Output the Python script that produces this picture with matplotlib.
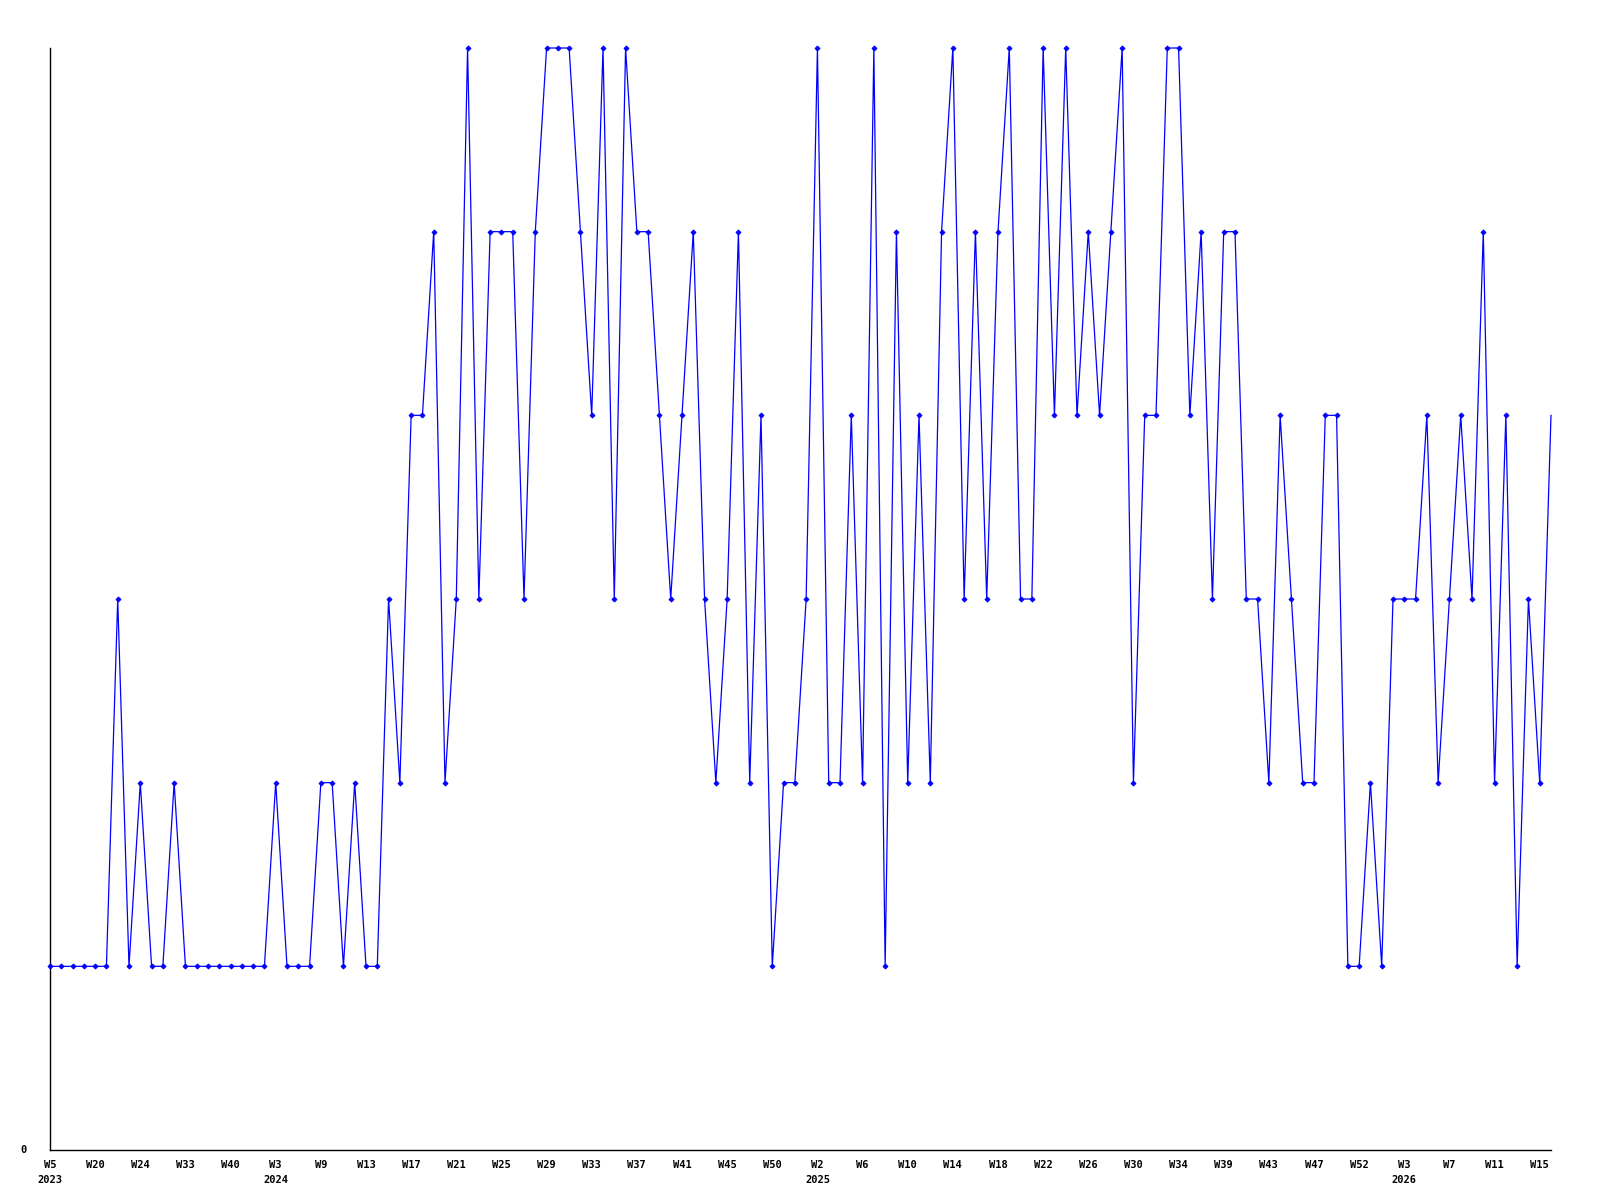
import matplotlib
matplotlib.use("Agg")
import matplotlib.pyplot as plt

# weekly values (one point per observation)
values = [
    1, 1, 1, 1, 1, 1, 3, 1, 2, 1, 1, 2, 1, 1, 1, 1, 1, 1, 1, 1,
    2, 1, 1, 1, 2, 2, 1, 2, 1, 1, 3, 2, 4, 4, 5, 2, 3, 6, 3, 5,
    5, 5, 3, 5, 6, 6, 6, 5, 4, 6, 3, 6, 5, 5, 4, 3, 4, 5, 3, 2,
    3, 5, 2, 4, 1, 2, 2, 3, 6, 2, 2, 4, 2, 6, 1, 5, 2, 4, 2, 5,
    6, 3, 5, 3, 5, 6, 3, 3, 6, 4, 6, 4, 5, 4, 5, 6, 2, 4, 4, 6,
    6, 4, 5, 3, 5, 5, 3, 3, 2, 4, 3, 2, 2, 4, 4, 1, 1, 2, 1, 3,
    3, 3, 4, 2, 3, 4, 3, 5, 2, 4, 1, 3, 2, 4,
]

# x tick labels, one every 4 observations
week_labels = [
    "W5", "W20", "W24", "W33", "W40", "W3", "W9", "W13", "W17", "W21",
    "W25", "W29", "W33", "W37", "W41", "W45", "W50", "W2", "W6", "W10",
    "W14", "W18", "W22", "W26", "W30", "W34", "W39", "W43", "W47", "W52",
    "W3", "W7", "W11", "W15",
]
label_step = 4
# year shown under the tick label with this index in week_labels
year_labels = {0: "2023", 5: "2024", 17: "2025", 30: "2026"}

fig = plt.figure(figsize=(16, 12), dpi=100)
ax = fig.add_axes([50 / 1600, 1 - 1150 / 1200, 1501 / 1600, 1102 / 1200])

x = list(range(len(values)))
ax.plot(x[:-1], values[:-1], color="#0000ff", linewidth=0.9, marker="D",
        markersize=2.6, markeredgewidth=0.6, clip_on=False, zorder=3)
ax.plot(x[-2:], values[-2:], color="#0000ff", linewidth=0.9, clip_on=False,
        zorder=3)

ax.set_xlim(0, len(values) - 1)
ax.set_ylim(0, 6)

for s in ("top", "right"):
    ax.spines[s].set_visible(False)
for s in ("left", "bottom"):
    ax.spines[s].set_linewidth(1.0)
    ax.spines[s].set_color("black")

font = dict(family="DejaVu Sans Mono", weight="bold", size=7.5)

ticks = [i * label_step for i in range(len(week_labels))]
labels = []
for i, w in enumerate(week_labels):
    if i in year_labels:
        labels.append(w + "\n" + year_labels[i])
    else:
        labels.append(w)
ax.set_xticks(ticks)
ax.set_xticklabels(labels, fontdict=font, linespacing=1.6, va="top")
ax.tick_params(axis="x", length=0, pad=7)

ax.set_yticks([0])
ax.set_yticklabels(["0"], fontdict=font)
ax.tick_params(axis="y", length=0, pad=17)
for t in ax.get_yticklabels():
    t.set_va("center")

fig.savefig("out.png", dpi=100, facecolor="white")
